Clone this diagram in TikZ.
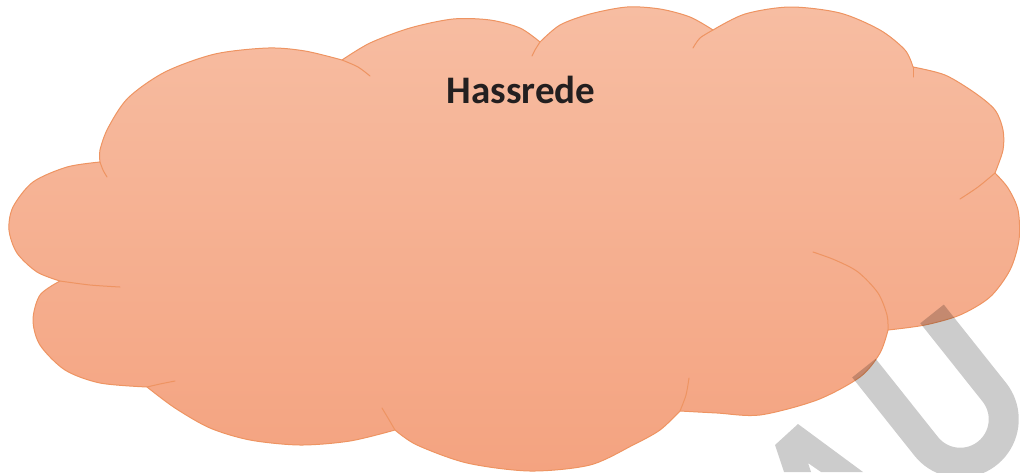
\documentclass[tikz,border=0pt]{standalone}
\usepackage{fontspec}
\newfontfamily\labelfont{Carlito}
\definecolor{cloudtop}{RGB}{247,189,162}
\definecolor{cloudbot}{RGB}{244,163,128}
\definecolor{cloudline}{RGB}{238,148,98}
\definecolor{wmgray}{RGB}{204,204,204}
\definecolor{textdark}{RGB}{35,31,32}
\tikzset{
  cloudshape/.style={draw=cloudline, line width=1pt, top color=cloudtop, bottom color=cloudbot, line join=round},
  innerarc/.style={draw=cloudline, line width=1pt, line cap=round},
  watermark/.style={fill=wmgray, draw=none, blend mode=multiply},
  wmstroke/.style={draw=wmgray, line width=30pt, blend mode=multiply}
}
\begin{document}
\begin{tikzpicture}[x=1pt, y=-1pt]
\useasboundingbox (0,0) rectangle (1020,472);
\path[cloudshape] (100,162)
  -- plot[smooth] coordinates {(100,162) (67,167) (33,182) (13,207) (9,230) (17,253) (37,272) (60,281)}
  -- plot[smooth] coordinates {(60,281) (40,295) (33,320) (40,345) (65,370) (100,383) (147,387)}
  -- plot[smooth] coordinates {(147,387) (175,408) (210,428) (250,440) (300,445) (350,441) (395,430)}
  -- plot[smooth] coordinates {(395,430) (417,445) (467,463) (530,471) (590,465) (633,445) (660,430) (680,411)}
  -- plot[smooth] coordinates {(680,411) (717,413) (760,415) (817,400) (860,377) (880,353) (888,330)}
  -- plot[smooth] coordinates {(888,330) (925,325) (960,315) (990,297) (1010,270) (1019,240) (1018,210) (1008,188) (995,173)}
  -- plot[smooth] coordinates {(995,173) (1003,150) (1003,130) (995,110) (975,93) (945,75) (913,67)}
  -- plot[smooth] coordinates {(913,67) (905,50) (880,30) (840,13) (790,7) (745,14) (713,30)}
  -- plot[smooth] coordinates {(713,30) (690,17) (660,9) (627,7) (590,14) (560,25) (540,42)}
  -- plot[smooth] coordinates {(540,42) (520,28) (490,20) (453,19) (410,28) (370,43) (342,60)}
  -- plot[smooth] coordinates {(342,60) (305,51) (268,48) (215,54) (165,72) (128,98) (108,128) (100,150) (100,162)}
  -- cycle;
\draw[innerarc] plot[smooth] coordinates {(100,162) (103,170) (107,177)};
\draw[innerarc] plot[smooth] coordinates {(60,281) (90,285) (120,287)};
\draw[innerarc] plot[smooth] coordinates {(147,387) (160,384) (175,381)};
\draw[innerarc] plot[smooth] coordinates {(395,430) (388,418) (382,408)};
\draw[innerarc] plot[smooth] coordinates {(680,411) (686,395) (689,378)};
\draw[innerarc] plot[smooth] coordinates {(888,330) (887,315) (878,293) (858,272) (835,260) (813,252)};
\draw[innerarc] plot[smooth] coordinates {(995,173) (978,187) (960,199)};
\draw[innerarc] plot[smooth] coordinates {(913,67) (913,77)};
\draw[innerarc] plot[smooth] coordinates {(713,30) (700,38) (693,48)};
\draw[innerarc] plot[smooth] coordinates {(540,42) (535,50) (532,56)};
\draw[innerarc] plot[smooth] coordinates {(342,60) (358,67) (370,76)};
\node[anchor=base, inner sep=0pt, text=textdark] (title) at (521,103) {\labelfont\bfseries\fontsize{39}{39}\selectfont Hassrede};
% watermark
\begin{scope}
\clip (0,0) rectangle (1020,472);
\path[watermark] (784,472) -- (775,445) -- (798,424) -- (863,472) -- (821,472) -- (808,463) -- (811,472) -- cycle;
\begin{scope}[shift={(898,341)}, rotate=-51.5]
\draw[wmstroke] (0,43.5) -- (100,43.5) -- plot[domain=90:-90, samples=40] ({100+43.5*cos(\x)}, {43.5*sin(\x)}) -- (0,-43.5);
\end{scope}
\end{scope}
\end{tikzpicture}
\end{document}
